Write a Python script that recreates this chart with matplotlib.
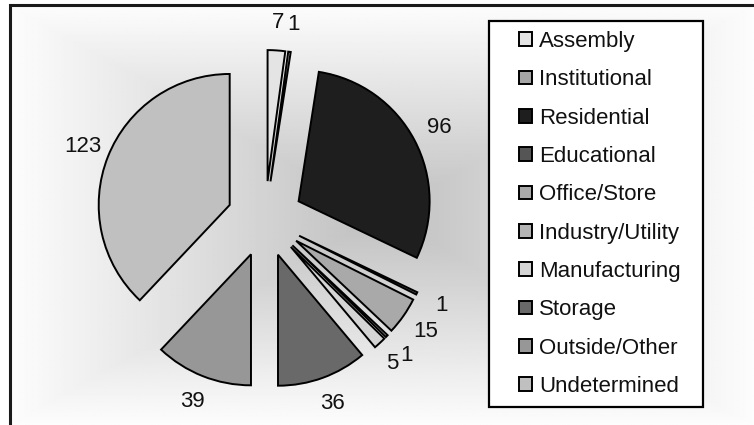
import numpy as np
import matplotlib.pyplot as plt
from matplotlib.patches import Rectangle
from matplotlib.legend_handler import HandlerPatch

categories = ['Assembly', 'Institutional', 'Residential', 'Educational',
              'Office/Store', 'Industry/Utility', 'Manufacturing', 'Storage',
              'Outside/Other', 'Undetermined']
counts = [7, 1, 96, 1, 15, 1, 5, 36, 39, 123]
shades = ['#e4e4e4', '#a6a6a6', '#1e1e1e', '#555555', '#a9a9a9',
          '#b4b4b4', '#d4d4d4', '#696969', '#979797', '#c0c0c0']

# labels that would collide with a neighbour get another alignment
label_ha = {'Manufacturing': 'right'}

plt.rcParams['font.family'] = ['Liberation Sans', 'DejaVu Sans']

W, H = 754, 425
R_PX = 131.0            # pie radius in pixels
CX, CY = 265.0, 206.0   # pie centre in pixels (y up)


def px(x, y):
    """pixel position -> data units (pie radius = 1)"""
    return (x - CX) / R_PX, (y - CY) / R_PX


def square_key(legend, orig_handle, xdescent, ydescent, width, height, fontsize):
    # small square at the right end of the handle box
    return Rectangle((-xdescent + width - height, -ydescent), height, height)


fig = plt.figure(figsize=(W / 100, H / 100), dpi=100)
ax = fig.add_axes([0, 0, 1, 1])

# chart area with a rectangular grey-to-white gradient
ax0, ay0 = px(10, 0)
ax1, ay1 = px(W, H - 5)
gx = np.linspace(-1, 1, 500)
gy = np.linspace(-1, 1, 300)
X, Y = np.meshgrid(gx, gy)
t = np.maximum(np.abs(X), np.abs(Y))
grad = 0.75 + 0.24 * t
ax.imshow(grad, cmap='gray', vmin=0, vmax=1, extent=[ax0, ax1, ay0, ay1],
          aspect='auto', interpolation='bilinear', zorder=0)
bx0, by0 = px(10, -20)
bx1, by1 = px(W + 20, H - 5)
ax.add_patch(Rectangle((bx0, by0), bx1 - bx0, by1 - by0, fill=False,
                       lw=2.2, ec='#1a1a1a', zorder=1))

explode = [0.29] * len(counts)
wedges, _ = ax.pie(counts, colors=shades, startangle=90, counterclock=False,
                   radius=1, center=(0, 0), explode=explode, frame=True,
                   wedgeprops=dict(edgecolor='black', linewidth=1.4, zorder=2))

# value labels just outside each exploded slice
for w, n, e, cat in zip(wedges, counts, explode, categories):
    mid = np.deg2rad((w.theta1 + w.theta2) / 2)
    d = e + 1.21
    ax.text(d * np.cos(mid), d * np.sin(mid), str(n),
            ha=label_ha.get(cat, 'center'), va='center', fontsize=16,
            color='#111111', zorder=3)

leg = ax.legend(wedges, categories, loc='upper left', mode='expand',
                bbox_to_anchor=(489 / W, 1 - 407 / H, 214 / W, 386 / H),
                borderaxespad=0, fontsize=16,
                frameon=True, fancybox=False, edgecolor='black', framealpha=1,
                labelspacing=0.78, handlelength=1.5, handleheight=0.58,
                handletextpad=0.3, borderpad=0.45,
                handler_map={w: HandlerPatch(patch_func=square_key) for w in wedges})
leg.get_frame().set_linewidth(1.6)
for txt in leg.get_texts():
    txt.set_color('#111111')

xa, ya = px(0, 0)
xb, yb = px(W, H)
ax.set_xlim(xa, xb)
ax.set_ylim(ya, yb)
ax.set_aspect('equal')
ax.axis('off')

fig.savefig('out.png', dpi=100)
